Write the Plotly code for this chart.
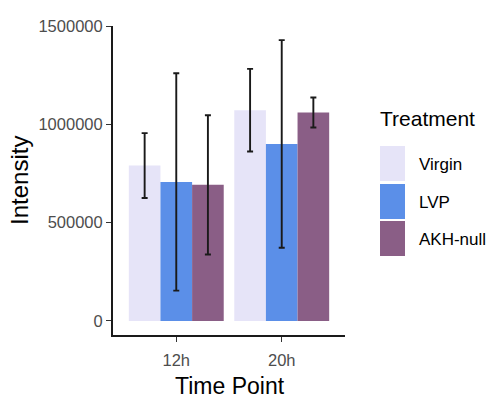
import plotly.graph_objects as go

time_points = ["12h", "20h"]
treatments = ["Virgin", "LVP", "AKH-null"]
colors = ["#E6E4F8", "#5B8FE8", "#8A5E86"]
means = {
    "Virgin": [790000, 1072000],
    "LVP": [707000, 900000],
    "AKH-null": [692000, 1060000],
}
errors = {
    "Virgin": [165000, 210000],
    "LVP": [553000, 528000],
    "AKH-null": [354000, 76000],
}
y_ticks = [0, 500000, 1000000, 1500000]

FONT = "Liberation Sans, Arial, sans-serif"
W, H = 487, 399
L, R, T, B = 113, 142, 26, 64
pw, ph = W - L - R, H - T - B

def px(x):
    return (x - L) / pw

def py(y):
    return (H - B - y) / ph

fig = go.Figure()
for name, col in zip(treatments, colors):
    fig.add_trace(go.Bar(
        x=time_points, y=means[name], name=name,
        marker=dict(color=col, line=dict(width=0)),
        error_y=dict(type="data", array=errors[name], visible=True,
                     color="#1a1a1a", thickness=1.9, width=3),
        showlegend=False,
    ))

fig.update_layout(
    width=W, height=H,
    margin=dict(l=L, r=R, t=T, b=B, autoexpand=False),
    paper_bgcolor="white", plot_bgcolor="white",
    barmode="group", bargap=0.1, bargroupgap=0,
    font=dict(family=FONT),
    xaxis=dict(
        range=[-0.6, 1.6], showgrid=False, zeroline=False, automargin=False,
        showline=True, linecolor="#1a1a1a", linewidth=2,
        ticks="outside", ticklen=5, tickcolor="#333333", tickwidth=1.3,
        ticklabelstandoff=4,
        tickfont=dict(size=16.5, color="#4D4D4D", family=FONT),
    ),
    yaxis=dict(
        range=[-71500, 1500000], showgrid=False, zeroline=False, automargin=False,
        showline=True, linecolor="#1a1a1a", linewidth=2,
        ticks="outside", ticklen=5, tickcolor="#333333", tickwidth=1.3,
        tickvals=y_ticks, ticktext=[str(v) for v in y_ticks],
        tickfont=dict(size=16.5, color="#4D4D4D", family=FONT),
    ),
)

# Axis titles
fig.add_annotation(text="Time Point", xref="paper", yref="paper",
                   x=px(230), y=py(386), xanchor="center", yanchor="middle",
                   showarrow=False,
                   font=dict(size=23, color="black", family=FONT))
fig.add_annotation(text="Intensity", xref="paper", yref="paper",
                   x=px(20), y=py(181), xanchor="center", yanchor="middle",
                   showarrow=False, textangle=-90,
                   font=dict(size=24, color="black", family=FONT))

# Legend (drawn manually to mimic ggplot key size)
fig.add_annotation(text="Treatment", xref="paper", yref="paper",
                   x=px(378), y=py(118), xanchor="left", yanchor="middle",
                   showarrow=False,
                   font=dict(size=21, color="black", family=FONT))
key_tops = [146, 184, 221]
for name, col, top in zip(treatments, colors, key_tops):
    fig.add_shape(type="rect", xref="paper", yref="paper",
                  x0=px(380), x1=px(405), y0=py(top), y1=py(top + 35),
                  fillcolor=col, line=dict(width=0))
    fig.add_annotation(text=name, xref="paper", yref="paper",
                       x=px(417), y=py(top + 18), xanchor="left",
                       yanchor="middle", showarrow=False,
                       font=dict(size=17, color="black", family=FONT))

fig.write_html("out.html", config={"displayModeBar": False},
               post_script="document.body.style.margin='0';document.body.style.padding='0';")
